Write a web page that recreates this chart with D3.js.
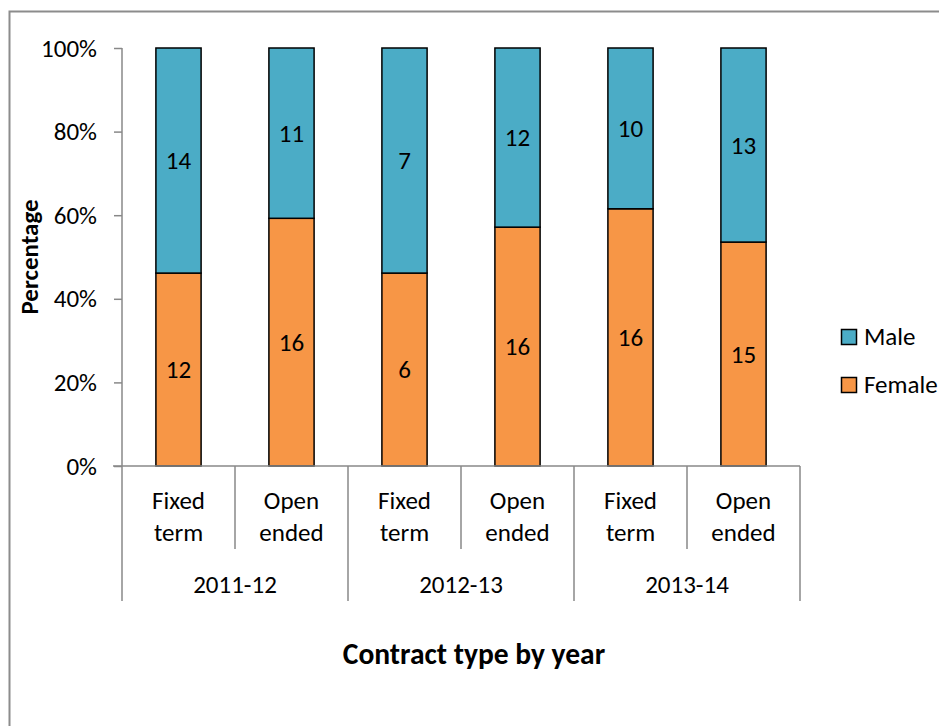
<!DOCTYPE html>
<html>
<head>
<meta charset="utf-8">
<script src="https://cdn.jsdelivr.net/npm/d3@7"></script>
<style>
  html, body { margin: 0; padding: 0; background: #fff; }
  svg { display: block; font-family: Carlito, Calibri, Lato, sans-serif; }
</style>
</head>
<body>
<svg id="chart" width="939" height="726"></svg>
<script>
// Staff counts by contract type and year
const years = ["2011-12", "2012-13", "2013-14"];
const contractTypes = [["Fixed", "term"], ["Open", "ended"]];
const female = [12, 16, 6, 16, 16, 15];
const male = [14, 11, 7, 12, 10, 13];
const seriesNames = ["Female", "Male"];
const seriesColors = ["#F79646", "#4BACC6"];
const yTicks = [0, 0.2, 0.4, 0.6, 0.8, 1.0];

const fontFamily = "Carlito, Calibri, Lato, sans-serif";
const textSize = 25;

const svg = d3.select("#chart");

// Outer chart-area frame
svg.append("rect")
  .attr("x", 9.5).attr("y", 11.5)
  .attr("width", 1000).attr("height", 1000)
  .attr("fill", "none").attr("stroke", "#8c8c8c").attr("stroke-width", 2);

const plot = { left: 122, right: 800, top: 48, bottom: 466 };

const cats = [];
years.forEach((yr, yi) => contractTypes.forEach((ct, ci) => cats.push({ id: yi * 2 + ci, year: yr, type: ct })));

const x = d3.scaleBand()
  .domain(cats.map(d => d.id))
  .range([plot.left, plot.right])
  .paddingInner(0.6).paddingOuter(0.3);
const y = d3.scaleLinear().domain([0, 1]).range([plot.bottom, plot.top]);

const rows = cats.map((c, i) => ({ id: c.id, Female: female[i], Male: male[i] }));
const stacked = d3.stack().keys(seriesNames).offset(d3.stackOffsetExpand)(rows);

const axisColor = "#888888";

// Y axis
const yAxis = svg.append("g")
  .attr("transform", `translate(${plot.left},0)`)
  .call(d3.axisLeft(y).tickValues(yTicks).tickFormat(d3.format(".0%")).tickSize(8).tickPadding(17));
yAxis.select(".domain").attr("stroke", axisColor).attr("stroke-width", 1.5).attr("d", `M0,${plot.top}V${plot.bottom}`);
yAxis.selectAll(".tick line").attr("stroke", axisColor).attr("stroke-width", 1.5);
yAxis.selectAll(".tick text").attr("font-size", textSize).attr("fill", "#000").attr("font-family", fontFamily);

// Bars
const layer = svg.append("g").selectAll("g").data(stacked).join("g")
  .attr("fill", (d, i) => seriesColors[i]);
layer.selectAll("rect").data(d => d).join("rect")
  .attr("x", d => x(d.data.id))
  .attr("width", x.bandwidth())
  .attr("y", d => y(d[1]))
  .attr("height", d => y(d[0]) - y(d[1]))
  .attr("stroke", "#000").attr("stroke-width", 1.5);

// Data labels (counts)
stacked.forEach(s => {
  svg.append("g").selectAll("text").data(s).join("text")
    .attr("x", d => x(d.data.id) + x.bandwidth() / 2)
    .attr("y", d => (y(d[0]) + y(d[1])) / 2)
    .attr("dy", "0.35em")
    .attr("text-anchor", "middle")
    .attr("font-size", textSize)
    .text(d => d.data[s.key]);
});

// X axis with two-level category labels
const catLeft = id => x(id) - x.step() * x.paddingInner() / 2;
const xg = svg.append("g").attr("stroke", axisColor).attr("stroke-width", 1.5);
xg.append("line").attr("x1", plot.left - 9).attr("x2", plot.right).attr("y1", plot.bottom).attr("y2", plot.bottom);
cats.forEach(c => {
  const lx = c.id === 0 ? plot.left : catLeft(c.id);
  const isGroup = c.id % 2 === 0;
  xg.append("line").attr("x1", lx).attr("x2", lx)
    .attr("y1", plot.bottom).attr("y2", isGroup ? 601 : 549);
});
xg.append("line").attr("x1", plot.right).attr("x2", plot.right).attr("y1", plot.bottom).attr("y2", 601);

const xl = svg.append("g").attr("font-size", textSize).attr("text-anchor", "middle");
cats.forEach(c => {
  const cx = x(c.id) + x.bandwidth() / 2;
  xl.append("text").attr("x", cx).attr("y", 509).text(c.type[0]);
  xl.append("text").attr("x", cx).attr("y", 541).text(c.type[1]);
});
years.forEach((yr, yi) => {
  const a = x(yi * 2) + x.bandwidth() / 2, b = x(yi * 2 + 1) + x.bandwidth() / 2;
  xl.append("text").attr("x", (a + b) / 2).attr("y", 593).text(yr);
});

// Axis titles
svg.append("text")
  .attr("x", 474).attr("y", 664)
  .attr("text-anchor", "middle").attr("font-size", 29.5).attr("font-weight", "bold")
  .text("Contract type by year");
svg.append("text")
  .attr("transform", "translate(38,257) rotate(-90)")
  .attr("text-anchor", "middle").attr("font-size", 25).attr("font-weight", "bold")
  .text("Percentage");

// Legend (Male listed above Female)
const legendItems = [{ name: "Male", color: seriesColors[1] }, { name: "Female", color: seriesColors[0] }];
const lg = svg.append("g");
legendItems.forEach((it, i) => {
  const ly = 329 + i * 48;
  lg.append("rect").attr("x", 841.5).attr("y", ly + 0.5).attr("width", 15).attr("height", 15)
    .attr("fill", it.color).attr("stroke", "#000").attr("stroke-width", 1.5);
  lg.append("text").attr("x", 864).attr("y", ly + 16).attr("font-size", textSize).text(it.name);
});
</script>
</body>
</html>
